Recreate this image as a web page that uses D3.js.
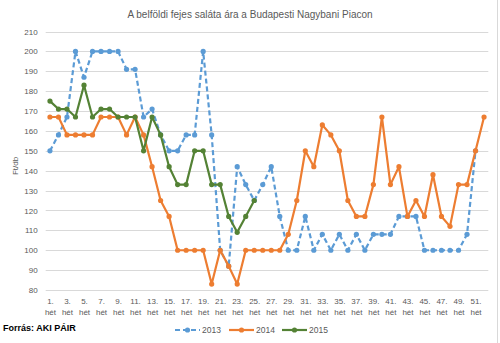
<!DOCTYPE html>
<html>
<head>
<meta charset="utf-8">
<script src="https://cdn.jsdelivr.net/npm/d3@7"></script>
<style>
  html, body { margin: 0; padding: 0; background: #fff; }
  svg { display: block; font-family: "Liberation Sans", Arial, sans-serif; }
</style>
</head>
<body>
<svg id="chart" width="500" height="343"></svg>
<script>
const title = "A belföldi fejes saláta ára a Budapesti Nagybani Piacon";
const yAxisTitle = "Ft/db";
const sourceText = "Forrás: AKI PÁIR";
const weeks = d3.range(1, 53);
const weekLabelLine1 = weeks.map(w => w + ".");
const weekLabelLine2 = "hét";
const yTicks = [80, 90, 100, 110, 120, 130, 140, 150, 160, 170, 180, 190, 200, 210];
const seriesNames = ["2013", "2014", "2015"];
const values2013 = [150, 158, 167, 200, 187, 200, 200, 200, 200, 191, 191, 167, 171, 158, 150, 150, 158, 158, 200, 158,
  100, 92, 142, 133, 125, 133, 142, 117, 100, 100, 117, 100, 108, 100, 108, 100, 108, 100, 108, 108,
  108, 117, 117, 117, 100, 100, 100, 100, 100, 108, 150];
const values2014 = [167, 167, 158, 158, 158, 158, 167, 167, 167, 158, 167, 158, 142, 125, 117, 100, 100, 100, 100, 83,
  100, 92, 83, 100, 100, 100, 100, 100, 108, 125, 150, 142, 163, 158, 150, 125, 117, 117, 133, 167,
  133, 142, 117, 125, 117, 138, 117, 112, 133, 133, 150, 167];
const values2015 = [175, 171, 171, 167, 183, 167, 171, 171, 167, 167, 167, 150, 167, 158, 142, 133, 133, 150, 150, 133,
  133, 117, 109, 117, 125];

const colors = { "2013": "#5B9BD5", "2014": "#ED7D31", "2015": "#548235" };
const dashes = { "2013": "5,3", "2014": null, "2015": null };
const seriesData = [values2013, values2014, values2015];

const svg = d3.select("#chart");
const textColor = "#595959";

const x = d3.scalePoint().domain(weeks).range([45.7, 488.3]).padding(0.5);
const y = d3.scaleLinear().domain([80, 210]).range([290, 31.5]);

// border on right
svg.append("line").attr("x1", 497.5).attr("x2", 497.5).attr("y1", 0).attr("y2", 343)
  .attr("stroke", "#d9d9d9").attr("stroke-width", 1);

// title
svg.append("text").attr("x", 250).attr("y", 17.5).attr("text-anchor", "middle")
  .attr("font-size", 10).attr("fill", textColor).text(title);

// gridlines
svg.append("g").selectAll("line").data(yTicks).join("line")
  .attr("x1", 45.7).attr("x2", 488.3)
  .attr("y1", d => Math.round(y(d)) + 0.5).attr("y2", d => Math.round(y(d)) + 0.5)
  .attr("stroke", "#d9d9d9").attr("stroke-width", 1);

// y axis via d3 axis (labels only)
const yAxis = svg.append("g").attr("transform", "translate(45.7,0)")
  .call(d3.axisLeft(y).tickValues(yTicks).tickSize(0).tickPadding(8));
yAxis.select(".domain").remove();
yAxis.selectAll("text").attr("font-size", 8).attr("fill", textColor)
  .attr("font-family", "Liberation Sans, Arial, sans-serif");

// y axis title
svg.append("text").attr("transform", "translate(18,166) rotate(-90)")
  .attr("text-anchor", "middle").attr("font-size", 8).attr("fill", textColor).text(yAxisTitle);

// x axis labels (odd weeks)
const xAxis = svg.append("g").attr("transform", "translate(0,290)")
  .call(d3.axisBottom(x).tickValues(weeks.filter(w => w % 2 === 1)).tickSize(0).tickFormat(() => ""));
xAxis.select(".domain").remove();
xAxis.selectAll(".tick text").remove();
xAxis.selectAll(".tick").each(function(d) {
  const g = d3.select(this);
  const t = g.append("text").attr("text-anchor", "middle").attr("font-size", 8).attr("fill", textColor);
  t.append("tspan").attr("x", 0).attr("y", 14).text(weekLabelLine1[d - 1]);
  t.append("tspan").attr("x", 0).attr("y", 25).text(weekLabelLine2);
});

// series
const line = d3.line().x((d, i) => x(weeks[i])).y(d => y(d));
seriesNames.forEach((name, si) => {
  const vals = seriesData[si];
  const g = svg.append("g");
  g.append("path").datum(vals).attr("d", line).attr("fill", "none")
    .attr("stroke", colors[name]).attr("stroke-width", 2.2)
    .attr("stroke-linejoin", "round")
    .attr("stroke-dasharray", dashes[name]);
  g.selectAll("circle").data(vals).join("circle")
    .attr("cx", (d, i) => x(weeks[i])).attr("cy", d => y(d)).attr("r", 2.6)
    .attr("fill", colors[name]);
});

// legend
const legendX = [175, 229, 282];
seriesNames.forEach((name, i) => {
  const lg = svg.append("g").attr("transform", `translate(${legendX[i]},330)`);
  lg.append("line").attr("x1", 0).attr("x2", 25).attr("y1", 0).attr("y2", 0)
    .attr("stroke", colors[name]).attr("stroke-width", 2.2).attr("stroke-dasharray", dashes[name]);
  lg.append("circle").attr("cx", 12.5).attr("cy", 0).attr("r", 2.6).attr("fill", colors[name]);
  lg.append("text").attr("x", 27).attr("y", 3).attr("font-size", 8.5).attr("fill", textColor).text(name);
});

// source
svg.append("text").attr("x", 3).attr("y", 331).attr("font-size", 9).attr("font-weight", "bold")
  .attr("fill", "#000").text(sourceText);
</script>
</body>
</html>
